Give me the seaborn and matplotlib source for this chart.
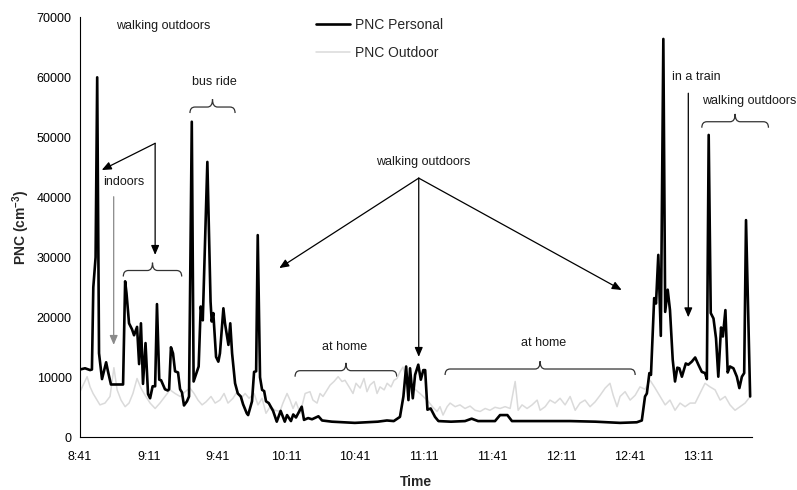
import matplotlib
matplotlib.use("Agg")
import numpy as np
import pandas as pd
import seaborn as sns
import matplotlib.pyplot as plt
from matplotlib.path import Path
from matplotlib.patches import PathPatch

# minutes after 8:41 and particle number concentration (cm^-3)
pers_min = [0, 2.2, 4.4, 5.2, 5.8, 6.8, 7.5, 8.3, 9.6, 11.4, 12.2, 13.5, 18.8, 19.7, 20.3,
            21.4, 22.7, 23.6, 24.9, 25.8, 26.6, 27.5, 28.6, 29.7, 30.6, 31.7, 32.8, 33.6,
            34.6, 35.4, 37.1, 38.3, 38.9, 39.7, 40.6, 41.5, 42.8, 43.7, 44.5, 45.4, 46.7,
            47.6, 48.8, 49.6, 51.1, 51.8, 52.7, 53.6, 55.6, 57.0, 57.5, 58.2, 59.4, 60.4,
            61.1, 62.6, 63.3, 64.8, 65.6, 66.4, 67.7, 68.9, 70.2, 71.2, 72.8, 73.4, 75.1,
            76.0, 76.9, 77.6, 78.6, 79.5, 80.4, 81.2, 82.4, 83.4, 84.3, 85.9, 87.6, 89.4,
            90.4, 92.1, 93.1, 94.3, 96.8, 97.8, 99.6, 101.3, 104.1, 105.7, 110, 115, 120,
            125, 130, 134, 137, 139.7, 141.2, 142.4, 143.4, 144.1, 145.3, 146.3, 147.7,
            148.8, 149.9, 150.7, 151.7, 153.1, 155.0, 156.5, 162, 168.1, 171.0, 173.8,
            181.2, 183.4, 186.6, 188.6, 200, 214, 225, 235.8, 243.1, 245.3, 246.7, 247.5,
            248.6, 249.3, 250.7, 251.5, 252.5, 253.6, 254.7, 255.5, 256.6, 257.6, 258.8,
            259.8, 260.8, 261.7, 262.8, 264.5, 265.6, 267.1, 268.6, 270.0, 271.5, 272.9,
            273.7, 274.5, 275.4, 276.6, 277.7, 278.7, 279.9, 280.7, 281.8, 282.8, 283.8,
            285.3, 286.8, 287.9, 289.0, 290.0, 290.8, 292.6]
pers_pnc = [11300, 11500, 11200, 11300, 25000, 30000, 60000, 14000, 9700, 12500, 11000, 8800,
            8800, 26000, 24000, 19000, 18000, 17000, 18400, 12200, 19000, 8900, 15700, 7200,
            6500, 8500, 8500, 22200, 9600, 9500, 8000, 7800, 8000, 15000, 14000, 11000, 10800,
            8000, 7500, 5300, 6000, 6800, 52600, 9300, 11000, 11800, 21800, 19500, 45900,
            22600, 19300, 20700, 13400, 12600, 14000, 21500, 19000, 15400, 19000, 14000, 9000,
            7300, 6800, 5500, 4000, 3700, 6000, 10900, 11000, 33700, 10000, 7900, 7700, 6000,
            5700, 5000, 4400, 2600, 4400, 2600, 3700, 2700, 3800, 3300, 5100, 2900, 3200, 3000,
            3500, 2800, 2600, 2500, 2400, 2500, 2600, 2800, 2700, 3400, 6800, 11800, 6200,
            11500, 6500, 10400, 12100, 9600, 11200, 11200, 4600, 4800, 3400, 2700, 2600, 2700,
            3100, 2700, 2700, 3700, 3700, 2700, 2700, 2700, 2600, 2400, 2500, 2800, 6800, 7300,
            10700, 10400, 23200, 22300, 30400, 16900, 66400, 20900, 24600, 21200, 12900, 9300,
            11600, 11500, 10100, 12300, 12100, 12600, 13300, 12100, 10900, 10700, 9700, 50400,
            20700, 19800, 16500, 10100, 18300, 16800, 21200, 10800, 11800, 11500, 10100, 8200,
            10100, 10700, 36200, 6800]

out_min = [0, 3.1, 4.4, 5.7, 8.7, 10.9, 13.1, 14.8, 16.2, 17.9, 19.7, 21.4, 23.1, 24.9, 26.6,
           28.4, 30.6, 32.8, 34.9, 37.1, 39.3, 41.5, 43.7, 45.9, 48.0, 49.8, 51.5, 53.3, 55.0,
           57.2, 59.0, 61.1, 62.9, 64.6, 66.8, 68.6, 70.3, 72.1, 73.8, 76.0, 77.7, 79.5, 81.2,
           83.0, 85.2, 87.3, 88.6, 90.4, 91.7, 93.0, 94.3, 96.1, 98.3, 100.4, 101.7, 103.5,
           104.8, 106.1, 107.9, 109.2, 110.9, 112.7, 114.4, 115.7, 117.5, 119.2, 120.5, 122.3,
           124.0, 125.3, 126.6, 128.4, 129.7, 131.0, 132.8, 134.1, 135.8, 137.1, 138.4, 139.7,
           141.0, 143.2, 146.3, 149.3, 152.0, 154.1, 155.9, 157.2, 158.5, 160.3, 161.6, 163.8,
           165.9, 168.1, 170.3, 172.5, 174.7, 176.9, 179.0, 181.2, 183.4, 185.6, 187.8, 190.0,
           191.3, 193.0, 195.2, 197.4, 199.6, 200.9, 203.1, 205.2, 207.4, 209.6, 211.8, 214.0,
           216.2, 218.3, 220.5, 222.7, 224.9, 227.1, 229.3, 231.4, 232.8, 234.5, 235.8, 238.0,
           240.2, 242.4, 244.5, 246.7, 248.9, 251.1, 253.3, 255.5, 257.6, 259.8, 262.0, 264.2,
           266.4, 268.6, 270.7, 272.9, 275.1, 277.3, 279.5, 281.7, 283.8, 286.0, 288.2, 290.4,
           292.6]
out_pnc = [7600, 10100, 8400, 7300, 5400, 5700, 6800, 11600, 7900, 6200, 5100, 5700, 7300, 9800,
           8200, 7000, 5700, 4800, 5700, 6800, 7900, 7300, 6800, 7600, 8200, 7300, 6200, 5400,
           5900, 6800, 5700, 6200, 7300, 5700, 6500, 7600, 6500, 7300, 6500, 7300, 5400, 6500,
           4000, 5100, 4500, 4300, 5700, 7300, 6200, 4800, 5900, 4000, 7300, 7600, 6200, 5700,
           7300, 6800, 7900, 8700, 9300, 10100, 9300, 9500, 8400, 7300, 9000, 8200, 9800, 7600,
           8700, 9300, 7300, 8400, 7900, 9000, 8400, 9500, 9800, 10900, 11700, 9000, 8000, 7000,
           6000, 5000, 4300, 5100, 3700, 5100, 5700, 5100, 5400, 4800, 5200, 4500, 4300, 4800,
           4500, 5000, 4800, 5100, 4800, 9300, 4500, 5400, 4800, 5400, 6200, 4500, 5100, 6200,
           5700, 6500, 5400, 6800, 4500, 5700, 6200, 5100, 5900, 7000, 8200, 9000, 7000, 5100,
           6800, 7600, 6200, 7000, 8400, 8000, 9500, 8200, 6800, 5400, 6200, 4500, 5700, 5100,
           5700, 5700, 7300, 9000, 8400, 7900, 6200, 6800, 5400, 4500, 5100, 5700, 6800]

tick_labels = ["8:41", "9:11", "9:41", "10:11", "10:41", "11:11", "11:41", "12:11", "12:41", "13:11"]

# annotation texts: (minute, pnc, text)
notes = [(36.2, 68500, "walking outdoors"), (19.2, 42600, "indoors"), (58.7, 59300, "bus ride"),
         (149.8, 45850, "walking outdoors"), (115.7, 15100, "at home"), (202.3, 15670, "at home"),
         (269.3, 60050, "in a train"), (292.0, 56050, "walking outdoors")]
# arrows: (from minute, from pnc, to minute, to pnc)
arrows = [(32.8, 49000, 9.5, 44550), (32.8, 49000, 32.8, 30400),
          (147.9, 43200, 87.0, 28200), (147.9, 43200, 147.9, 13400),
          (147.9, 43200, 236.5, 24550), (265.6, 57350, 265.6, 20000)]
# braces: (start minute, end minute, pnc at brace ends)
braces = [(18.9, 44.4, 26800), (48.0, 67.7, 54050), (93.9, 138.3, 10100),
          (159.4, 242.4, 10380), (271.5, 300.6, 51600)]

sns.set_style("white")
plt.rcParams["font.family"] = ["Liberation Sans", "DejaVu Sans"]
plt.rcParams["mathtext.fontset"] = "custom"
plt.rcParams["mathtext.rm"] = "Liberation Sans:bold"
plt.rcParams["mathtext.default"] = "rm"

fig = plt.figure(figsize=(7.97, 4.9), dpi=100)
ax = fig.add_axes([0.1004, 0.1076, 0.8431, 0.857])

pers = pd.DataFrame({"t": pers_min, "pnc": pers_pnc})
outd = pd.DataFrame({"t": out_min, "pnc": out_pnc})
sns.lineplot(data=pers, x="t", y="pnc", ax=ax, color="black", lw=1.9, zorder=3,
             label="PNC Personal")
sns.lineplot(data=outd, x="t", y="pnc", ax=ax, color="#dadada", lw=1.1, zorder=2,
             label="PNC Outdoor")

ax.set_xlim(0, 293.4)
ax.set_ylim(0, 70000)
ax.set_yticks(np.arange(0, 70001, 10000))
xt = np.arange(0, 291, 10)
ax.set_xticks(xt)
ax.set_xticklabels([tick_labels[i // 3] if i % 3 == 0 else "" for i in range(len(xt))])
ax.tick_params(axis="both", labelsize=9, colors="black", direction="out")
ax.tick_params(axis="x", length=4, width=0.8, pad=6)
ax.tick_params(axis="y", length=3, width=0.8, pad=3)
sns.despine(ax=ax)
for s in ("left", "bottom"):
    ax.spines[s].set_color("black")
    ax.spines[s].set_linewidth(0.8)

ax.set_xlabel("Time", fontsize=10, fontweight="bold")
ax.set_ylabel("PNC (cm$^{-3}$)", fontsize=10, fontweight="bold")
ax.xaxis.set_label_coords(0.5, -0.09)
ax.yaxis.set_label_coords(-0.072, 0.5)

ax.legend(loc="upper left", bbox_to_anchor=(0.396, 0.964), bbox_transform=fig.transFigure,
          frameon=False, fontsize=10, handlelength=2.5, handletextpad=0.3,
          labelspacing=1.05, borderpad=0, borderaxespad=0)

for t, v, s in notes:
    ax.text(t, v, s, fontsize=9, ha="center", va="center", color="#1a1a1a", clip_on=False)

head = "-|>,head_length=0.7,head_width=0.3"
for x0, y0, x1, y1 in arrows:
    ax.annotate("", xy=(x1, y1), xytext=(x0, y0),
                arrowprops=dict(arrowstyle=head, color="black", lw=0.9,
                                mutation_scale=8, shrinkA=0, shrinkB=0))
# grey "indoors" arrow
ax.annotate("", xy=(14.7, 15400), xytext=(14.7, 40100),
            arrowprops=dict(arrowstyle=head, color="#8a8a8a", lw=0.9,
                            mutation_scale=8, shrinkA=0, shrinkB=0))

dx, flat, tip = 2.2, 1000, 2300
for x0, x1, y in braces:
    xc = (x0 + x1) / 2
    verts = [(x0, y), (x0, y + flat), (x0 + dx, y + flat), (xc - dx, y + flat),
             (xc, y + flat), (xc, y + tip), (xc, y + flat), (xc + dx, y + flat),
             (x1 - dx, y + flat), (x1, y + flat), (x1, y)]
    codes = [Path.MOVETO, Path.CURVE3, Path.CURVE3, Path.LINETO, Path.CURVE3, Path.CURVE3,
             Path.CURVE3, Path.CURVE3, Path.LINETO, Path.CURVE3, Path.CURVE3]
    ax.add_patch(PathPatch(Path(verts, codes), fill=False, lw=0.9, edgecolor="#333333",
                           clip_on=False))

fig.savefig("out.png", dpi=100)
